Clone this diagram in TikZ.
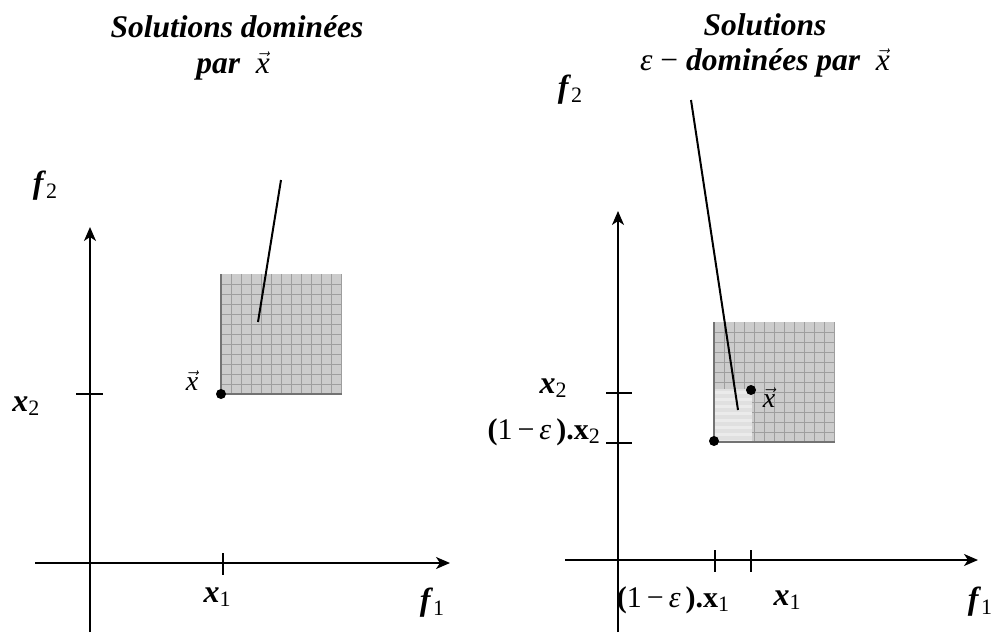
\documentclass[tikz,border=0pt]{standalone}
\usepackage{fontspec}
\setmainfont{Liberation Serif}
\usetikzlibrary{arrows.meta}
\newcommand{\vx}{\ensuremath{\vec{\mbox{\mdseries\itshape x}}}}
\newcommand{\bx}[1]{\textbf{\textit{#1}}}
\newcommand{\subs}[1]{\raisebox{-0.3ex}{\fontsize{22}{22}\selectfont\mdseries\upshape #1}}
\begin{document}
\begin{tikzpicture}[x=1pt,y=-1pt,
 axis/.style={line width=1.8pt,-{Stealth[length=14pt,width=12pt,inset=4pt]}},
 tick/.style={line width=1.3pt},
 lbl/.style={font=\fontsize{32}{32}\selectfont,inner sep=0pt},
 elbl/.style={font=\fontsize{30}{30}\selectfont,inner sep=0pt},
 vlbl/.style={font=\fontsize{28}{28}\selectfont,inner sep=0pt},
 ttl/.style={font=\fontsize{31.5}{35}\selectfont\bfseries\itshape,inner sep=0pt,anchor=base},
 pointer/.style={line width=2pt},
 dotm/.style={circle,fill=black,minimum size=10pt,inner sep=0pt},
 region/.style={fill=black!20},
 gridl/.style={black!38,line width=0.6pt},
 edgel/.style={black!55,line width=2pt}]
\useasboundingbox (0,0) rectangle (993,632);

% ---------- left panel ----------
\node[ttl] (t1a) at (237,37) {Solutions dominées};
\node[ttl] (t1b) at (233,73) {par\ \ \vx};

\fill[region] (221,274) rectangle (342,394);
\foreach \i in {231,241,...,341} \draw[gridl] (\i,274) -- (\i,394);
\foreach \j in {284,294,...,384} \draw[gridl] (221,\j) -- (342,\j);
\draw[edgel] (221,274) -- (221,394) -- (342,394);

\coordinate (lybot) at (90,632);
\coordinate (lytop) at (90,227);
\coordinate (lxleft) at (35,563);
\coordinate (lxright) at (450,563);
\draw[axis] (lybot) -- (lytop);
\draw[axis] (lxleft) -- (lxright);
\coordinate (ltx1a) at (223,553); \coordinate (ltx1b) at (223,575);
\draw[tick] (ltx1a) -- (ltx1b);
\coordinate (lty2a) at (76,394); \coordinate (lty2b) at (103,394);
\draw[tick] (lty2a) -- (lty2b);

\node[dotm] (ldot) at (221,394) {};
\node[vlbl] (lvx) at (192,381) {\vx};
\coordinate (lp1) at (281,180);
\coordinate (lp2) at (258,322);
\draw[pointer] (lp1) -- (lp2);

\node[lbl] (lf2) at (45,186) {\bx{f}\subs{2}};
\node[lbl] (lx2) at (26,406) {\bx{x}\subs{2}};
\node[lbl] (lx1) at (217,597) {\bx{x}\subs{1}};
\node[lbl] (lf1) at (432,603) {\bx{f}\subs{1}};

% ---------- right panel ----------
\node[ttl] (t2a) at (765,35) {Solutions};
\node[ttl] (t2b) at (765,70) {{\mdseries\itshape ε\upshape\ − }dominées par\ \ \vx};

\fill[region] (714,322) rectangle (835,442);
\fill[black!12] (714,389) rectangle (752,442);
\foreach \j in {391,398,...,440} \fill[white!92!black] (714,\j) rectangle (752,\j+3);
\foreach \i in {724,734,...,834} \draw[gridl] (\i,322) -- (\i,389);
\foreach \i in {754,764,...,834} \draw[gridl] (\i,389) -- (\i,442);
\foreach \j in {332,342,...,382} \draw[gridl] (714,\j) -- (835,\j);
\foreach \j in {392,402,...,432} \draw[gridl] (752,\j) -- (835,\j);
\draw[edgel] (714,322) -- (714,442) -- (835,442);

\coordinate (rybot) at (618,632);
\coordinate (rytop) at (618,211);
\coordinate (rxleft) at (565,560);
\coordinate (rxright) at (978,560);
\draw[axis] (rybot) -- (rytop);
\draw[axis] (rxleft) -- (rxright);
\coordinate (rtxea) at (715,550); \coordinate (rtxeb) at (715,572);
\draw[tick] (rtxea) -- (rtxeb);
\coordinate (rtx1a) at (751,550); \coordinate (rtx1b) at (751,572);
\draw[tick] (rtx1a) -- (rtx1b);
\coordinate (rty2a) at (606,393); \coordinate (rty2b) at (632,393);
\draw[tick] (rty2a) -- (rty2b);
\coordinate (rtyea) at (606,443); \coordinate (rtyeb) at (632,443);
\draw[tick] (rtyea) -- (rtyeb);

\node[dotm] (rdote) at (714,441) {};
\node[dotm] (rdot) at (751,390) {};
\node[vlbl] (rvx) at (769,398) {\vx};
\coordinate (rp1) at (691,100);
\coordinate (rp2) at (738,410);
\draw[pointer] (rp1) -- (rp2);

\node[lbl] (rf2) at (570,90) {\bx{f}\subs{2}};
\node[lbl] (rx2) at (553,388) {\bx{x}\subs{2}};
\node[elbl,anchor=east] (rex2) at (600,432) {\textbf{(}1\,−\,\textit{ε}\,\textbf{).x}\subs{2}};
\node[elbl] (rex1) at (673,600) {\textbf{(}1\,−\,\textit{ε}\,\textbf{).x}\subs{1}};
\node[lbl] (rx1) at (787,600) {\bx{x}\subs{1}};
\node[lbl] (rf1) at (980,602) {\bx{f}\subs{1}};
\end{tikzpicture}
\end{document}
